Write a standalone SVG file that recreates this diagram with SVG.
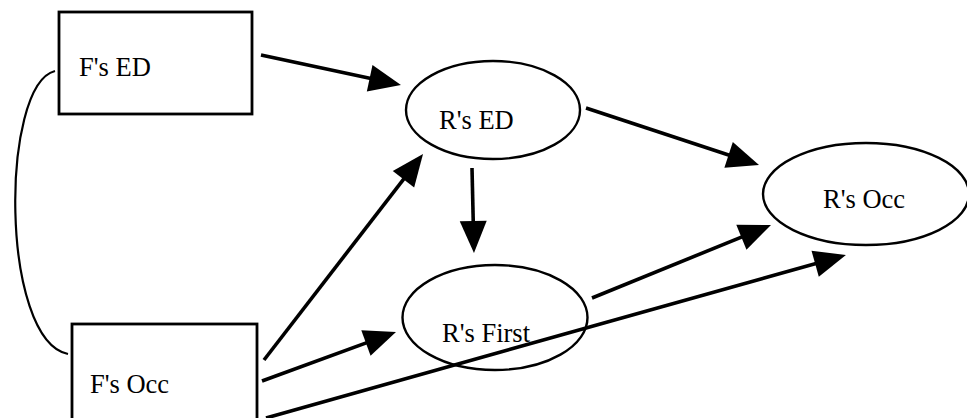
<svg xmlns="http://www.w3.org/2000/svg" width="967" height="418" viewBox="0 0 967 418">
  <style>
    .box { fill: #ffffff; stroke: #000000; stroke-width: 2.8; }
    .oval { fill: #ffffff; stroke: #000000; stroke-width: 2.4; }
    .label { font-family: "Liberation Serif", "Times New Roman", serif; font-size: 26.5px; fill: #000000; }
    .path { fill: none; stroke: #000000; stroke-width: 3.6; }
    .corr { fill: none; stroke: #000000; stroke-width: 2.2; }
  </style>
  <defs>
    <marker id="head" markerUnits="userSpaceOnUse" markerWidth="32" markerHeight="27" refX="12" refY="13.5" orient="auto" overflow="visible">
      <path d="M0,0 L32,13.5 L0,27 Z" fill="#000000"/>
    </marker>
  </defs>

  <!-- nodes -->
  <g id="node-f-ed">
    <rect class="box" x="59" y="12" width="193" height="102"/>
    <text class="label" x="79" y="76">F's ED</text>
  </g>
  <g id="node-f-occ">
    <rect class="box" x="72" y="324" width="185" height="110"/>
    <text class="label" x="90" y="393">F's Occ</text>
  </g>
  <g id="node-r-ed">
    <ellipse class="oval" cx="493" cy="110" rx="87" ry="49"/>
    <text class="label" x="439" y="129">R's ED</text>
  </g>
  <g id="node-r-first">
    <ellipse class="oval" cx="495" cy="317.5" rx="92.5" ry="52.5"/>
    <text class="label" x="442" y="342">R's First</text>
  </g>
  <g id="node-r-occ">
    <ellipse class="oval" cx="866" cy="194" rx="103" ry="51"/>
    <text class="label" x="823" y="208">R's Occ</text>
  </g>

  <!-- connectors -->
  <g id="connectors">
    <path class="corr" d="M55,71 C0,85 0,340 68,354"/>
    <line class="path" x1="261" y1="55" x2="381.4" y2="80.8" marker-end="url(#head)"/>
    <line class="path" x1="264" y1="360" x2="410.8" y2="169.8" marker-end="url(#head)"/>
    <line class="path" x1="472" y1="168" x2="473.5" y2="233" marker-end="url(#head)"/>
    <line class="path" x1="586" y1="108" x2="740" y2="158.7" marker-end="url(#head)"/>
    <line class="path" x1="262" y1="381" x2="377.2" y2="338.9" marker-end="url(#head)"/>
    <line class="path" x1="592" y1="298" x2="752.5" y2="232.6" marker-end="url(#head)"/>
    <line class="path" x1="266" y1="418" x2="826.7" y2="260.4" marker-end="url(#head)"/>
  </g>
</svg>
